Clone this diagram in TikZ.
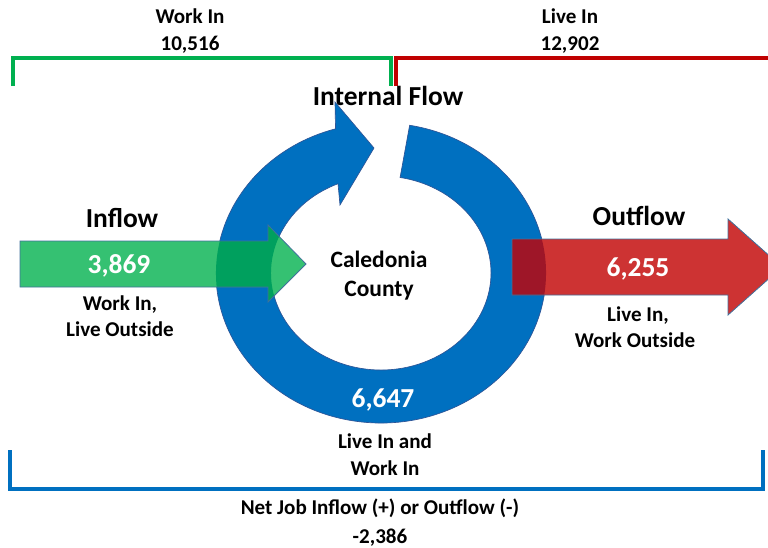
\documentclass[tikz,border=0pt]{standalone}
\usepackage{fontspec}
\setmainfont{Carlito}
\usetikzlibrary{calc}
\definecolor{ringblue}{HTML}{0070C0}
\definecolor{ringedge}{HTML}{2F5597}
\definecolor{ingreen}{HTML}{35C172}
\definecolor{ingreendark}{HTML}{00A05E}
\definecolor{outred}{HTML}{CD3333}
\definecolor{outreddark}{HTML}{9E1628}
\definecolor{shapeedge}{HTML}{41719C}
\definecolor{brgreen}{HTML}{00B050}
\definecolor{brred}{HTML}{C00000}
\definecolor{brblue}{HTML}{0070C0}
\begin{document}
\begin{tikzpicture}[x=0.75pt,y=-0.75pt,
  bigtxt/.style={font=\fontsize{20.6}{24}\selectfont\bfseries,anchor=base,inner sep=0pt},
  lbltxt/.style={font=\fontsize{15.8}{19}\selectfont\bfseries,anchor=base,inner sep=0pt},
  midtxt/.style={font=\fontsize{17.6}{21}\selectfont\bfseries,anchor=base,inner sep=0pt},
  bracket/.style={line width=3pt},
  shapeline/.style={draw=shapeedge,line width=0.6pt,line join=miter},
]
\useasboundingbox (0,0) rectangle (768,547);
\clip (0,0) rectangle (768,547);
\coordinate (C) at (381,273);
\def\RingShape{($(C)+(-80:165 and 150)$) arc[start angle=-80,end angle=254,x radius=165,y radius=150] -- (335,102) -- (374,148) -- (340,205) -- ($(C)+(247:110 and 97)$) arc[start angle=247,end angle=-80,x radius=110,y radius=97] -- cycle}
\def\InShape{(20,241) -- (268,241) -- (268,225) -- (306,264) -- (268,302) -- (268,287) -- (20,287) -- cycle}
\def\OutShape{(512,239) -- (728,239) -- (728,219) -- (782,267) -- (728,315) -- (728,295) -- (512,295) -- cycle}

% ring
\fill[ringblue] \RingShape;
\draw[ringedge,line width=0.5pt] \RingShape;

% inflow arrow
\fill[ingreen] \InShape;
\begin{scope}
  \clip \InShape;
  \fill[ingreendark] \RingShape;
\end{scope}
\draw[shapeline] \InShape;

% outflow arrow
\fill[outred] \OutShape;
\begin{scope}
  \clip \OutShape;
  \fill[outreddark] \RingShape;
\end{scope}
\draw[shapeline] \OutShape;

% brackets
\draw[brgreen,bracket] (13,86) -- (13,57.5) -- (390.5,57.5) -- (390.5,86);
\draw[brred,bracket] (395.5,86) -- (395.5,57.5) -- (772,57.5);
\draw[brblue,bracket] (10,450) -- (10,488.5) -- (763,488.5) -- (763,450);

% texts
\node[lbltxt] (wi) at (190,23) {Work In};
\node[lbltxt] (wiv) at (190,50) {10,516};
\node[lbltxt] (li) at (570,23) {Live In};
\node[lbltxt] (liv) at (570,50) {12,902};
\node[bigtxt] (intf) at (388,105) {Internal Flow};
\node[bigtxt] (inf) at (122,227) {Inflow};
\node[bigtxt,text=white] (infv) at (119,273) {3,869};
\node[lbltxt] (inl1) at (120,310) {Work In,};
\node[lbltxt] (inl2) at (120,336) {Live Outside};
\node[midtxt] (cal1) at (379,267) {Caledonia};
\node[midtxt] (cal2) at (379,296) {County};
\node[bigtxt] (outf) at (639,225) {Outflow};
\node[bigtxt,text=white] (outv) at (638,276) {6,255};
\node[lbltxt] (outl1) at (638,321) {Live In,};
\node[lbltxt] (outl2) at (635,347) {Work Outside};
\node[bigtxt,text=white] (intv) at (383,407) {6,647};
\node[lbltxt] (intl1) at (385,448) {Live In and};
\node[lbltxt] (intl2) at (385,475) {Work In};
\node[lbltxt] (net1) at (380,514) {Net Job Inflow (+) or Outflow (-)};
\node[lbltxt] (net2) at (380,543) {-2,386};
\end{tikzpicture}
\end{document}
